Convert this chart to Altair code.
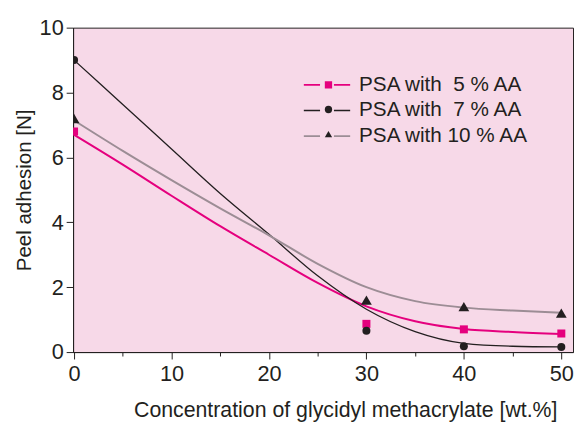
import altair as alt
import pandas as pd

# ---- data ----
series = ["PSA with\u20075 % AA", "PSA with\u20077 % AA", "PSA with 10 % AA"]

conc = [0, 30, 40, 50]
psa5 = [6.8, 0.87, 0.70, 0.57]
psa7 = [9.0, 0.66, 0.18, 0.16]
psa10 = [7.2, 1.60, 1.40, 1.20]

fit_x = [0, 5, 10, 15, 20, 25, 30, 35, 40, 45, 50]
fit5 = [6.70, 5.78, 4.82, 3.88, 3.00, 2.13, 1.41, 0.95, 0.71, 0.62, 0.56]
fit7 = [9.00, 7.63, 6.26, 4.89, 3.63, 2.35, 1.32, 0.63, 0.27, 0.18, 0.16]
fit10 = [7.14, 6.20, 5.30, 4.43, 3.60, 2.72, 2.00, 1.57, 1.37, 1.28, 1.21]

x_ticks = [0, 5, 10, 15, 20, 25, 30, 35, 40, 45, 50]
y_ticks = [0, 1, 2, 3, 4, 5, 6, 7, 8, 9, 10]

line_colors = ["#E5007E", "#231F20", "#9C8D95"]
marker_fills = ["#E5007E", "#231F20", "#231F20"]
marker_shapes = ["square", "circle", "triangle-up"]

pts_rows = []
for s, vals in zip(series, [psa5, psa7, psa10]):
    for xv, yv in zip(conc, vals):
        pts_rows.append({"x": xv, "y": yv, "series_m": s})
points = pd.DataFrame(pts_rows)

fit_rows = []
for s, vals in zip(series, [fit5, fit7, fit10]):
    for xv, yv in zip(fit_x, vals):
        fit_rows.append({"x": xv, "y": yv, "series": s})
fits = pd.DataFrame(fit_rows)

FONT = "Liberation Sans"
INK = "#231F20"

x_scale = alt.Scale(domain=[-0.1, 51.2], nice=False, zero=False)
y_scale = alt.Scale(domain=[0, 10], nice=False)

x_axis = alt.Axis(
    title="Concentration of glycidyl methacrylate [wt.%]",
    values=x_ticks,
    labelExpr="datum.value % 10 === 0 ? datum.label : ''",
    tickSize={"condition": {"test": "datum.value % 10 !== 0", "value": 4}, "value": 7},
    grid=False,
    labelFontSize=22,
    titleFontSize=21.6,
    labelPadding=5,
    titlePadding=15,
    titleX=276,
    titleFontWeight="normal",
    labelFlush=False,
)
y_axis = alt.Axis(
    title="Peel adhesion [N]",
    values=y_ticks,
    labelExpr="datum.value % 2 === 0 ? datum.label : ''",
    tickSize={"condition": {"test": "datum.value % 2 !== 0", "value": 4}, "value": 7},
    grid=False,
    labelFontSize=22,
    titleFontSize=20.8,
    labelPadding=3,
    titlePadding=5,
    titleFontWeight="normal",
    labelFlush=False,
)

marker_legend = alt.Legend(
    orient="none", legendX=249, legendY=48, title=None,
    symbolSize=55, labelExpr="''", rowPadding=5, clipHeight=20,
    padding=0, labelFontSize=20, symbolStrokeWidth=0,
)

lines = alt.Chart(fits).mark_line(interpolate="monotone", clip=True).encode(
    x=alt.X("x:Q", scale=x_scale, axis=x_axis),
    y=alt.Y("y:Q", scale=y_scale, axis=y_axis),
    color=alt.Color(
        "series:N",
        sort=series,
        scale=alt.Scale(range=line_colors),
        legend=alt.Legend(
            orient="none", legendX=233, legendY=48, title=None,
            symbolType="M-1,0H-0.3M0.3,0H1", symbolSize=2209,
            symbolStrokeWidth=1.6, labelFontSize=21, labelFont=FONT,
            labelColor=INK, rowPadding=5, clipHeight=20, padding=0,
            labelOffset=8, labelLimit=400, symbolFillColor="transparent",
        ),
    ),
    strokeWidth=alt.condition(
        f"datum.series === '{series[1]}'", alt.value(1.3), alt.value(2)
    ),
)

pts = alt.Chart(points).mark_point(filled=True, opacity=1, clip=True, strokeWidth=0).encode(
    x=alt.X("x:Q", scale=x_scale),
    y=alt.Y("y:Q", scale=y_scale),
    shape=alt.Shape("series_m:N", scale=alt.Scale(domain=series, range=marker_shapes), legend=marker_legend),
    fill=alt.Fill("series_m:N", scale=alt.Scale(domain=series, range=marker_fills), legend=marker_legend),
    size=alt.condition(
        f"datum.series_m === '{series[2]}'", alt.value(120), alt.value(66)
    ),
)

chart = (
    alt.layer(lines, pts)
    .properties(width=507, height=329, padding={"left": 5, "top": 6, "right": 0, "bottom": 0})
    .configure(background="white", font=FONT)
    .configure_view(fill="#F7D9E8", stroke=INK, strokeWidth=1)
    .configure_axis(
        domainColor=INK, tickColor=INK, labelColor=INK, titleColor=INK,
        labelFont=FONT, titleFont=FONT, domainWidth=1, tickWidth=1,
    )
)

chart.save("out.html", embed_options={"renderer": "svg", "actions": False})
